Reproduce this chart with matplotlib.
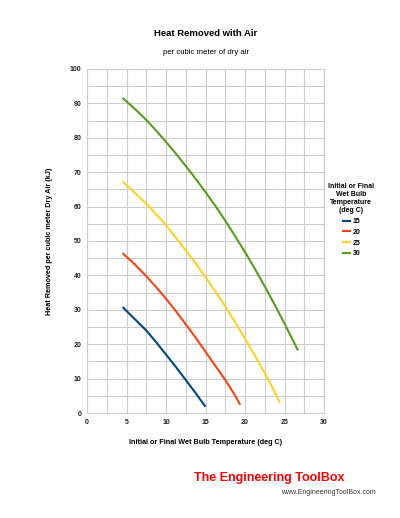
import matplotlib
matplotlib.use("Agg")
import matplotlib.pyplot as plt
from matplotlib.ticker import MultipleLocator

plt.rcParams['font.family'] = ['Liberation Sans', 'DejaVu Sans']

# wet bulb temperature (deg C) and heat removed (kJ) for each curve
x_15 = [4.5, 6, 7.5, 8.75, 10, 11.25, 12.5, 13.75, 15.0]
y_15 = [30.8, 27.4, 24.0, 20.6, 17.0, 13.4, 9.6, 5.8, 1.8]
x_20 = [4.5, 6, 7.5, 8.75, 10, 11.25, 12.5, 13.75, 15, 16.25, 17.5, 18.5, 19.4]
y_20 = [46.5, 43.3, 39.8, 36.6, 33.2, 29.6, 25.8, 21.9, 17.8, 13.7, 9.6, 6.0, 2.4]
x_25 = [4.5, 6, 7.5, 8.75, 10, 11.25, 12.5, 13.75, 15, 16.25, 17.5, 18.75, 20,
        21.25, 22.5, 23.5, 24.4]
y_25 = [67.3, 64.1, 60.8, 57.8, 54.6, 51.0, 47.3, 43.5, 39.5, 35.3, 31.0, 26.4, 21.6,
        16.7, 11.6, 7.3, 3.0]
x_30 = [4.5, 6, 7.5, 8.75, 10, 11.25, 12.5, 13.75, 15, 16.25, 17.5, 18.75, 20,
        21.25, 22.5, 23.75, 25, 26.7]
y_30 = [91.6, 88.5, 85.2, 82.1, 78.8, 75.4, 71.8, 68.1, 64.2, 60.2, 55.9, 51.4, 46.8,
        41.9, 36.8, 31.5, 26.0, 18.2]

labels = ["15", "20", "25", "30"]
colors = ["#004586", "#ff420e", "#ffd320", "#579d1c"]

fig = plt.figure(figsize=(4.0, 5.18), dpi=100)
ax = fig.add_axes([0.2175, 0.2027, 0.5925, 0.6641])

for xs, ys, lab, col in zip([x_15, x_20, x_25, x_30], [y_15, y_20, y_25, y_30],
                            labels, colors):
    ax.plot(xs, ys, color=col, lw=1.5, label=lab, solid_capstyle='butt')

ax.set_xlim(0, 30)
ax.set_ylim(0, 100)
ax.xaxis.set_major_locator(MultipleLocator(5))
ax.xaxis.set_minor_locator(MultipleLocator(2.5))
ax.yaxis.set_major_locator(MultipleLocator(10))
ax.yaxis.set_minor_locator(MultipleLocator(5))
ax.grid(which='both', color='#cccccc', lw=0.8)
ax.set_axisbelow(True)
for s in ax.spines.values():
    s.set_color('#cccccc')
ax.tick_params(which='both', length=0, labelsize=5, pad=4, labelcolor='#222222')
for t in ax.get_xticklabels() + ax.get_yticklabels():
    t.set_fontweight('bold')

ax.set_xlabel("Initial or Final Wet Bulb Temperature (deg C)", fontsize=5.2,
              fontweight='bold', labelpad=10)
ax.set_ylabel("Heat Removed per cubic meter Dry Air (kJ)", fontsize=5.2,
              fontweight='bold', labelpad=12)

fig.text(0.514, 1 - 33 / 518, "Heat Removed with Air", ha='center', va='center',
         fontsize=6.8, fontweight='bold')
fig.text(0.514, 1 - 52 / 518, "per cubic meter of dry air", ha='center', va='center',
         fontsize=5.6)

leg = ax.legend(title="Initial or Final\nWet Bulb\nTemperature\n(deg C)", loc='center',
                bbox_to_anchor=(1.115, 0.56), frameon=False, fontsize=5, title_fontsize=5,
                handlelength=1.3, handletextpad=0.2, labelspacing=0.55)
leg.get_title().set_fontweight('bold')
leg.get_title().set_multialignment('center')
for t in leg.get_texts():
    t.set_fontweight('bold')

fig.text(0.6725, 1 - 478 / 518, "The Engineering ToolBox", ha='center', va='center',
         fontsize=9, fontweight='bold', color='#ff0000')
fig.text(0.94, 1 - 492 / 518, "www.EngineeringToolBox.com", ha='right', va='center',
         fontsize=5, color='#333333')

fig.savefig("out.png", dpi=100)
